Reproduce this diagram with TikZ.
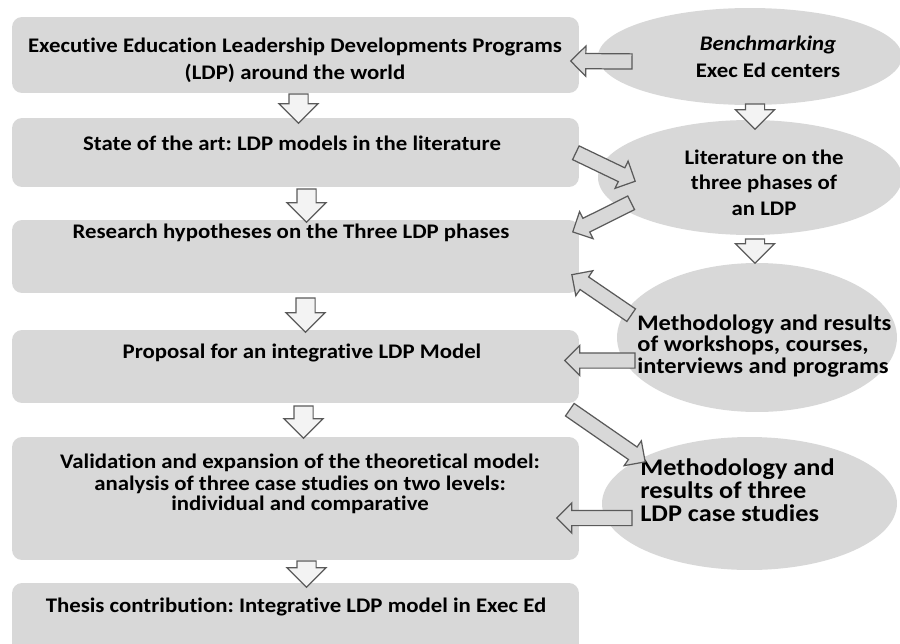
\documentclass[tikz,border=0pt]{standalone}
\usepackage{fontspec}
\setmainfont{Carlito}[FakeStretch=1.1, Ligatures=NoCommon]
\usepackage{xcolor}
\usepackage{tikz}
\usetikzlibrary{
  arrows.meta, positioning, calc, shapes.geometric, shapes.arrows
}
\frenchspacing

\definecolor{panelgray}{RGB}{216,216,216}
\definecolor{arrowline}{RGB}{90,90,90}
\definecolor{arrowpale}{RGB}{243,243,243}

\newcommand{\tightlines}{\setlength{\lineskiplimit}{-20pt}}
\newcommand{\blockarrow}[4]{%
  \path let \p1=#3, \p2=#4,
    \n1={atan2(\y2-\y1,\x2-\x1)}, \n2={veclen(\x2-\x1,\y2-\y1)} in
    (\p1) node[#1, anchor=tail, rotate=\n1, minimum height=\n2] (#2) {};}

\begin{document}
\begin{tikzpicture}[
  x=0.02cm, y=-0.02cm,
  box/.style={rounded corners=2mm, fill=panelgray, minimum width=11.34cm, inner sep=0pt},
  bubble/.style={ellipse, fill=panelgray, inner sep=0pt},
  txt/.style={font={\fontsize{11.8}{15.4}\selectfont\bfseries\tightlines}, align=center, inner sep=0pt},
  downarr/.style={single arrow, draw=arrowline, fill=arrowpale, line width=0.7pt,
    inner xsep=0pt, inner ysep=0.18cm, single arrow head extend=0.2cm,
    single arrow head indent=0pt, single arrow tip angle=90},
  sidearr/.style={downarr, fill=panelgray, inner ysep=0.14cm, single arrow head extend=0.15cm}
]
  \useasboundingbox (0,0) rectangle (900,643);
  \clip (0,0) rectangle (900,643);

  \node[box, minimum height=1.52cm] (b1) at (295.5,55) {};
  \node[box, minimum height=1.38cm] (b2) at (295.5,152.5) {};
  \node[box, minimum height=1.46cm] (b3) at (295.5,256.5) {};
  \node[box, minimum height=1.46cm] (b4) at (295.5,366.5) {};
  \node[box, minimum height=2.46cm] (b5) at (295.5,498.5) {};
  \node[box, minimum height=1.48cm] (b6) at (295.5,620) {};

  \node[bubble, minimum width=6.08cm, minimum height=1.94cm] (e1) at (750,56.5) {};
  \node[bubble, minimum width=6.08cm, minimum height=2.3cm] (e2) at (750,177.5) {};
  \node[bubble, minimum width=5.6cm, minimum height=2.98cm] (e3) at (757,337.5) {};
  \node[bubble, minimum width=5.9cm, minimum height=2.66cm] (e4) at (749.5,503.5) {};

  \node[txt] (t1) at (295,60.5) {Executive Education Leadership Developments Programs\\(LDP) around the world};
  \node[txt] (t2) at (292,143) {State of the art: LDP models in the literature};
  \node[txt] (t3) at (291,233) {Research hypotheses on the Three LDP phases};
  \node[txt] (t4) at (302,353) {Proposal for an integrative LDP Model};
  \node[txt, font={\fontsize{11.8}{11.2}\selectfont\bfseries\tightlines}] (t5) at (300,484)
    {Validation and expansion of the theoretical model:\\[1.4pt]analysis of three case studies on two levels:\\individual and comparative};
  \node[txt] (t6) at (296,607) {Thesis contribution: Integrative LDP model in Exec Ed};

  \node[txt] (u1) at (768,56.5) {\textit{Benchmarking}\\Exec Ed centers};
  \node[txt, font={\fontsize{11.8}{14.5}\selectfont\bfseries\tightlines}] (u2) at (764,182.5) {Literature on the\\three phases of\\an LDP};
  \node[txt, align=left, anchor=west, font={\fontsize{12.65}{12}\selectfont\bfseries\tightlines}] (u3) at (637,346)
    {Methodology and results\\of workshops, courses,\\interviews and programs};
  \node[txt, align=left, anchor=west, font={\fontsize{13.6}{13.1}\selectfont\bfseries\tightlines}] (u4) at (640,490)
    {Methodology and\\results of three\\LDP case studies};

  \blockarrow{downarr}{d12}{($(b1.south)+(3,0)$)}{($(b2.north)+(3,5)$)}
  \blockarrow{downarr}{d23}{($(b2.south)+(11,1)$)}{($(b3.north)+(11,2)$)}
  \blockarrow{downarr}{d34}{($(b3.south)+(10,4)$)}{($(b4.north)+(10,2)$)}
  \blockarrow{downarr}{d45}{($(b4.south)+(8,2)$)}{($(b5.north)+(8,1)$)}
  \blockarrow{downarr}{d56}{($(b5.south)+(11,0)$)}{($(b6.north)+(11,4)$)}
  \blockarrow{downarr}{f12}{($(e1.south)+(5,-2)$)}{($(e2.north)+(5,9)$)}
  \blockarrow{downarr}{f23}{($(e2.south)+(5,3)$)}{($(e3.north)+(-2,0)$)}

  \blockarrow{sidearr}{s1}{($(e1.west)+(35,5)$)}{($(b1.east)+(-8,6)$)}
  \blockarrow{sidearr}{s2}{($(b2.east)+(-4,0)$)}{($(e2.west)+(37,3.5)$)}
  \blockarrow{sidearr}{s3}{($(e2.west)+(34,25)$)}{($(b3.north east)+(-6,12)$)}
  \blockarrow{sidearr}{s4}{($(e3.west)+(15,-22)$)}{($(b3.east)+(-7,18.5)$)}
  \blockarrow{sidearr}{s5}{($(e3.west)+(19,23)$)}{($(b4.east)+(-14,-6)$)}
  \blockarrow{sidearr}{s6}{($(b4.south east)+(-10,6)$)}{($(e4.west)+(43,-42)$)}
  \blockarrow{sidearr}{s7}{($(e4.west)+(31,14.5)$)}{($(b5.east)+(-22,19.5)$)}
\end{tikzpicture}
\end{document}
